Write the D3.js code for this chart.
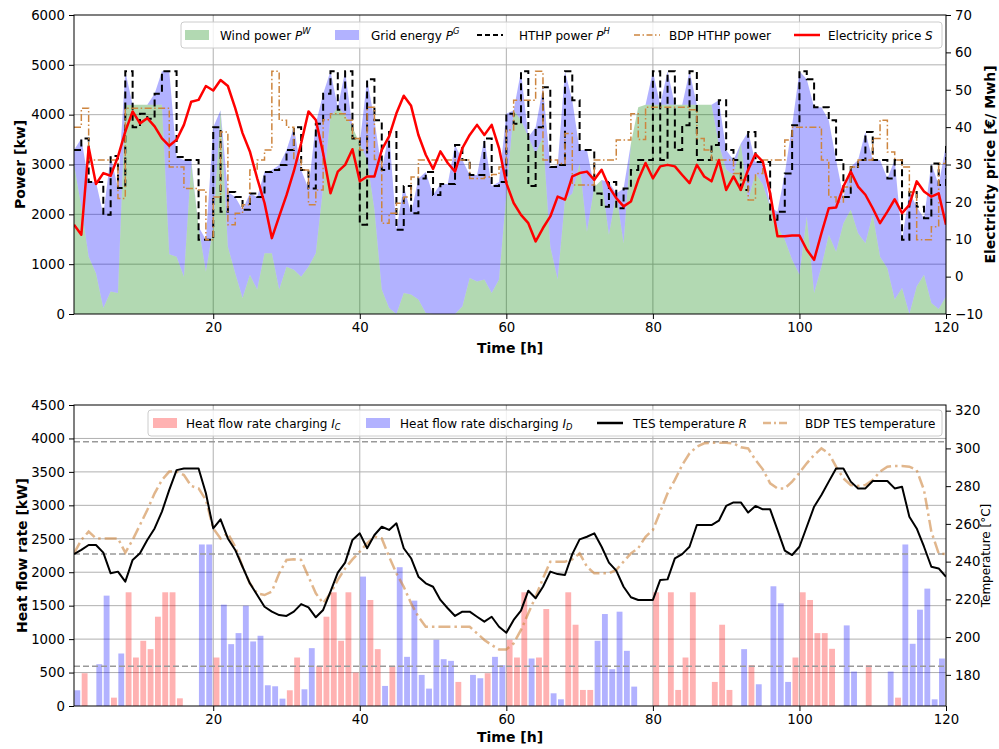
<!DOCTYPE html>
<html><head><meta charset="utf-8">
<script src="https://cdn.jsdelivr.net/npm/d3@7"></script>
<style>body{margin:0;background:#fff} svg{display:block} text{font-family:"DejaVu Sans",sans-serif}</style>
</head><body><svg id="c" width="999" height="749"></svg>
<script>
// ---- hourly data, hours 1..120 ----
const hours = d3.range(1, 121);

const windPower = [
 3000,2150,1150,820,120,450,420,4190,4200,4200,
 4200,4200,4200,1200,1150,750,3020,1750,850,1750,
 4090,1350,820,320,790,490,1220,1220,490,950,
 890,750,950,1220,2550,3950,4150,3990,3750,3420,
 3090,2090,490,120,0,420,390,290,20,0,
 0,0,0,150,720,650,690,420,690,2400,
 4090,3890,3550,3220,3550,1350,690,2290,2420,3020,
 1650,2550,2690,1590,2420,1420,3420,4150,4200,4200,
 4200,4200,4200,4200,4200,4200,4200,4200,3400,2900,
 2790,3420,2290,2820,2600,2150,1750,1490,1090,790,
 1950,420,950,1590,1250,1820,2090,1620,1420,1990,
 1150,920,290,520,0,550,790,220,100,350];

const gridEnergy = [
 290,1370,1500,1830,1870,2720,2110,680,0,0,
 0,220,670,3670,2000,2340,70,0,640,2000,
 0,1100,1530,1770,1630,1860,1630,1670,2500,2340,
 2860,2140,1570,2600,1870,920,0,880,0,0,
 1620,1800,2400,3530,1690,2150,1630,2430,2830,2390,
 2610,2610,3390,2940,2070,2140,2830,2150,1960,1620,
 0,980,0,530,1000,1600,2300,2580,1870,270,
 1640,0,0,1060,0,1100,0,0,0,670,
 0,670,0,0,670,0,0,0,890,390,
 300,0,1360,230,450,0,300,1330,2700,4080,
 2760,3730,3200,2300,1840,530,860,1470,2230,1100,
 1940,1800,2800,970,2450,1600,1130,2800,2490,3050];

const hthpPower = [
 3290,3520,2650,2650,1990,3170,2530,4870,3750,4020,
 3920,4420,4870,4870,3150,3090,3090,1490,1490,3750,
 2050,2450,2350,2090,2420,2350,2850,2890,2990,3290,
 3750,2890,2520,3820,4420,4870,4100,4870,3520,1790,
 4710,3890,2890,3650,1690,2570,2020,2720,2850,2390,
 2610,2610,3390,3090,2790,2790,3520,2570,2650,4020,
 3820,4870,2570,3750,4550,2950,2990,4870,4290,3290,
 3290,2420,2150,2650,2120,2520,2890,3090,3090,4870,
 3090,4870,3290,3790,4870,3090,3090,3390,4290,3290,
 3090,2490,3650,3050,3050,1890,2050,2820,3790,4870,
 4710,4150,4150,3890,3090,2350,2950,3090,3650,3090,
 3090,2720,3090,1490,2450,2150,1920,3020,2590,3400];

const bdpHthpPower = [
 3750,4130,3090,3090,3090,3090,2320,4130,4130,4130,
 4130,4130,4130,2950,2950,2520,2520,2490,1490,2350,
 3650,1790,2020,2190,2890,3090,3290,4870,3890,3750,
 3090,2890,2190,2490,3900,4020,4020,3890,3520,3290,
 4150,3100,1820,2020,2220,2350,2750,3090,3090,3090,
 3090,3090,3090,3090,2720,2720,2750,2800,2950,3690,
 4290,4290,4290,4870,3090,3090,3020,3620,2590,2590,
 2590,3090,3090,3090,3490,3490,4020,3500,4150,4150,
 4150,4150,4150,4150,4100,3520,3290,3090,3090,3090,
 2820,2690,2290,2820,3090,3090,3090,3490,3750,3750,
 3750,3750,3090,2350,2250,2550,2950,3090,3090,3520,
 3890,3250,3090,2950,2450,1490,1490,1750,3020,3090];

const electricityPrice = [
 13.9,11.2,34.6,24.8,27.7,27.0,32.1,38.8,44.2,41.0,
 42.4,40.2,37.0,35.0,36.6,40.6,46.8,47.3,51.0,49.8,
 52.6,51.0,45.1,38.4,33.5,26.3,19.7,10.3,16.1,21.8,
 28.2,35.7,44.2,41.9,33.0,22.3,28.1,29.9,34.1,25.5,
 26.8,26.8,33.9,37.5,43.7,48.4,45.7,37.9,32.6,28.8,
 33.5,30.4,28.1,34.4,37.9,40.6,37.9,40.6,34.4,25.0,
 19.7,16.5,14.3,9.4,13.0,16.1,21.4,20.6,26.8,27.7,
 28.1,25.9,28.6,24.1,21.0,18.8,20.1,25.9,30.4,26.3,
 29.5,29.9,29.5,27.2,25.0,29.9,26.8,25.5,31.2,23.2,
 26.8,23.2,28.6,32.8,30.8,22.3,10.8,10.8,11.0,11.0,
 7.2,4.5,11.6,18.3,18.5,24.1,28.1,24.1,21.9,18.3,
 14.3,17.4,20.7,17.0,19.2,25.5,22.8,21.4,22.3,13.9];

const chargingRate = [
 0,490,0,0,0,125,0,1700,725,975,
 850,1335,1700,1700,115,0,0,0,0,725,
 0,0,0,0,0,0,0,0,0,235,
 725,0,0,600,1335,1700,975,1700,500,0,
 1585,850,0,600,0,0,0,0,0,0,
 0,0,360,0,0,0,490,0,0,990,
 725,1700,0,725,1450,0,0,1700,1215,240,
 240,0,0,0,0,0,0,0,0,1700,
 0,1700,240,725,1700,0,0,360,1215,240,
 0,0,610,0,0,0,0,0,725,1700,
 1585,1090,1090,855,0,0,0,0,610,0,
 0,0,125,0,0,0,0,0,0,0];

const dischargingRate = [
 235,0,0,625,1650,0,785,0,0,0,
 0,0,0,0,0,0,0,2415,2415,0,
 1515,925,1090,1500,965,1050,310,295,110,0,
 0,250,865,0,0,0,0,0,0,1935,
 0,0,300,0,2075,735,1575,465,260,990,
 700,675,0,0,465,415,0,735,610,0,
 0,0,710,0,0,190,100,0,0,0,
 0,975,1375,550,1410,825,290,0,0,0,
 0,0,0,0,0,0,0,0,0,0,
 0,850,0,325,0,1790,1535,360,0,0,
 0,0,0,0,0,1205,515,0,0,0,
 0,515,0,2415,930,1440,1755,100,710,0];

const tesTemperature = [
 244.0,246.2,248.8,248.8,244.8,233.8,234.7,229.4,240.9,244.4,
 251.5,257.6,266.5,278.0,288.5,289.4,289.4,289.4,276.2,257.6,
 262.4,252.3,246.2,237.3,228.5,222.3,216.1,213.5,211.7,211.2,
 213.5,217.5,215.8,210.5,214.4,224.1,234.2,239.5,251.5,255.0,
 247.1,254.1,258.5,256.8,260.3,247.1,241.8,232.0,228.5,226.7,
 219.7,215.3,211.2,213.5,213.5,210.8,208.2,210.8,205.5,202.3,
 209.1,214.0,224.6,220.6,226.7,234.7,233.4,232.9,244.0,251.8,
 253.2,255.0,247.9,239.5,235.2,226.7,221.1,219.7,219.7,219.7,
 230.3,230.6,241.7,244.0,247.9,259.4,259.4,259.4,261.7,269.5,
 271.4,271.4,266.0,269.5,267.7,267.7,256.8,245.8,243.5,247.9,
 258.5,269.1,275.3,282.4,289.4,289.4,282.4,278.8,278.8,282.7,
 282.7,282.7,278.8,279.7,263.8,257.6,247.9,237.3,236.4,232.0];

const bdpTesTemperature = [
 244.4,251.5,255.9,252.3,252.3,252.3,252.3,244.8,251.5,259.4,
 267.4,276.2,283.3,287.7,287.7,285.9,280.1,278.8,272.7,257.6,
 252.3,255.0,247.9,237.3,228.5,223.2,222.3,224.1,233.8,240.9,
 241.2,240.9,232.0,223.2,217.9,223.2,230.3,236.4,241.2,245.3,
 249.7,253.2,252.3,242.6,233.8,226.7,217.9,210.8,205.5,205.5,
 205.5,205.5,205.5,205.5,205.5,202.0,198.5,195.8,193.5,193.5,
 196.7,203.8,212.6,221.4,231.1,240.0,240.0,240.0,241.2,244.4,
 237.3,233.8,233.8,233.8,235.6,240.0,244.4,247.1,253.2,256.8,
 266.5,276.2,283.3,291.2,297.4,300.9,302.7,303.0,303.0,303.0,
 302.7,300.6,300.0,293.9,288.9,281.5,278.8,278.8,282.4,287.1,
 292.1,296.5,300.0,297.4,290.3,284.1,280.6,280.1,280.6,283.3,
 287.7,290.3,290.7,290.7,290.3,288.5,277.9,255.9,244.4,244.0];

// storage temperature bounds: minimum, initial, maximum
const tempLimits = [184.5, 244.0, 303.5];

const timeTicks = [20, 40, 60, 80, 100, 120];
const powerTicks = [0, 1000, 2000, 3000, 4000, 5000, 6000];
const priceTicks = [-10, 0, 10, 20, 30, 40, 50, 60, 70];
const heatTicks = [0, 500, 1000, 1500, 2000, 2500, 3000, 3500, 4000, 4500];
const tempTicks = [180, 200, 220, 240, 260, 280, 300, 320];

// ---- layout ----
const svg = d3.select("#c");
const L = 74, R = 946;
const P1 = {top: 15, bottom: 314};
const P2 = {top: 405, bottom: 706};
const FONT = "DejaVu Sans";
const TICK_FS = 13.3, LEG_FS = 12, LAB_FS = 14;

const x = d3.scaleLinear().domain([1, 120]).range([L, R]);
const yPow = d3.scaleLinear().domain([0, 6000]).range([P1.bottom, P1.top]);
const yPrice = d3.scaleLinear().domain([-10, 70]).range([P1.bottom, P1.top]);
const yHeat = d3.scaleLinear().domain([0, 4500]).range([P2.bottom, P2.top]);
const yTemp = d3.scaleLinear().domain([163.5, 323]).range([P2.bottom, P2.top]);

const GRID = "#b0b0b0";

function clip(id, p) {
  svg.append("clipPath").attr("id", id).append("rect")
    .attr("x", L).attr("y", p.top).attr("width", R - L).attr("height", p.bottom - p.top);
}
clip("clipTop", P1); clip("clipBot", P2);

function grid(g, p, yScale, yTicks) {
  g.append("g").selectAll("line").data(timeTicks.filter(t => t < 120)).join("line")
    .attr("x1", d => x(d)).attr("x2", d => x(d)).attr("y1", p.top).attr("y2", p.bottom)
    .attr("stroke", GRID).attr("stroke-width", 1);
  g.append("g").selectAll("line").data(yTicks.filter((t, i) => i > 0 && i < yTicks.length - 1)).join("line")
    .attr("x1", L).attr("x2", R).attr("y1", d => yScale(d)).attr("y2", d => yScale(d))
    .attr("stroke", GRID).attr("stroke-width", 1);
}

function styleAxis(g) {
  g.attr("font-size", TICK_FS).attr("font-family", FONT);
  g.select(".domain").remove();
  g.selectAll(".tick line").attr("stroke", "#000").attr("stroke-width", 1);
  g.selectAll(".tick text").attr("fill", "#000");
}

function axes(p, yLeft, leftTicks, yRight, rightTicks) {
  styleAxis(svg.append("g").attr("transform", `translate(0,${p.bottom})`)
    .call(d3.axisBottom(x).tickValues(timeTicks).tickSize(5).tickPadding(4).tickFormat(d3.format("d"))));
  styleAxis(svg.append("g").attr("transform", `translate(${L},0)`)
    .call(d3.axisLeft(yLeft).tickValues(leftTicks).tickSize(5).tickPadding(4).tickFormat(d3.format("d"))));
  styleAxis(svg.append("g").attr("transform", `translate(${R},0)`)
    .call(d3.axisRight(yRight).tickValues(rightTicks).tickSize(5).tickPadding(4).tickFormat(d3.format("d"))));
  svg.append("rect").attr("x", L).attr("y", p.top).attr("width", R - L).attr("height", p.bottom - p.top)
    .attr("fill", "none").attr("stroke", "#000").attr("stroke-width", 1);
}

// rich text with italic symbols and a trailing super/subscript
function richText(t, parts, fs) {
  parts.forEach(pt => {
    if (typeof pt === "string") { t.append("tspan").text(pt); return; }
    t.append("tspan").attr("font-style", "italic").text(pt.base);
    if (pt.sup) {
      t.append("tspan").attr("font-style", "italic").attr("font-size", fs * 0.7).attr("dy", -fs * 0.42).text(pt.sup);
    }
    if (pt.sub) {
      t.append("tspan").attr("font-style", "italic").attr("font-size", fs * 0.7).attr("dy", fs * 0.22).text(pt.sub);
    }
  });
}

function legend(box, items) {
  const g = svg.append("g");
  g.append("rect").attr("x", box.x0).attr("y", box.y0).attr("width", box.x1 - box.x0).attr("height", box.y1 - box.y0)
    .attr("rx", 3).attr("fill", "rgba(255,255,255,0.8)").attr("stroke", "#cccccc").attr("stroke-width", 1);
  const cy = (box.y0 + box.y1) / 2;
  items.forEach(it => {
    if (it.kind === "patch") {
      g.append("rect").attr("x", it.hx).attr("y", cy - 5).attr("width", 24).attr("height", 10).attr("fill", it.fill);
    } else {
      g.append("line").attr("x1", it.hx).attr("x2", it.hx + 26).attr("y1", cy).attr("y2", cy)
        .attr("stroke", it.stroke).attr("stroke-width", it.width).attr("stroke-dasharray", it.dash || null);
    }
    const t = g.append("text").attr("x", it.tx).attr("y", cy + 4.5).attr("font-size", LEG_FS).attr("font-family", FONT).attr("fill", "#000");
    richText(t, it.label, LEG_FS);
  });
}

function axisLabel(txt, cx, cy, rot, opts = {}) {
  svg.append("text").attr("transform", `translate(${cx},${cy}) rotate(${rot})`)
    .attr("text-anchor", "middle").attr("dominant-baseline", "central")
    .attr("font-size", opts.fs || LAB_FS).attr("font-weight", opts.weight || "bold")
    .attr("font-family", FONT).attr("fill", "#000").text(txt);
}

const WIND_C = "rgba(0,128,0,0.3)", GRIDE_C = "rgba(0,0,255,0.3)";
const CH_C = "rgba(255,0,0,0.3)", DIS_C = "rgba(0,0,255,0.3)";
const BDP_C = "#cd853f", BDP_T_C = "rgba(205,133,63,0.6)";

// ================= top panel: power and price =================
{
  const g = svg.append("g");
  grid(g, P1, yPow, powerTicks);
  const body = g.append("g").attr("clip-path", "url(#clipTop)");

  const rows = hours.map((h, i) => ({h, wind: windPower[i], grid: gridEnergy[i]}));
  const stacked = d3.stack().keys(["wind", "grid"])(rows);
  const area = d3.area().x(d => x(d.data.h)).y0(d => yPow(d[0])).y1(d => yPow(d[1]));
  body.selectAll("path.area").data(stacked).join("path").attr("class", "area")
    .attr("d", area).attr("fill", (d, i) => i === 0 ? WIND_C : GRIDE_C);

  const step = (vals) => d3.line().curve(d3.curveStepAfter).x((d, i) => x(hours[i])).y(d => yPow(d))(vals);
  body.append("path").attr("d", step(hthpPower)).attr("fill", "none")
    .attr("stroke", "#000").attr("stroke-width", 2).attr("stroke-dasharray", "7,4");
  body.append("path").attr("d", step(bdpHthpPower)).attr("fill", "none")
    .attr("stroke", BDP_C).attr("stroke-width", 1.5).attr("stroke-dasharray", "7,2.5,1.5,2.5");

  const priceLine = d3.line().x((d, i) => x(hours[i])).y(d => yPrice(d));
  body.append("path").attr("d", priceLine(electricityPrice)).attr("fill", "none")
    .attr("stroke", "#ff0000").attr("stroke-width", 2.5).attr("stroke-linejoin", "round");

  axes(P1, yPow, powerTicks, yPrice, priceTicks);
  legend({x0: 181, x1: 942, y0: 22, y1: 48}, [
    {kind: "patch", fill: WIND_C, hx: 185, tx: 220, label: ["Wind power ", {base: "P", sup: "W"}]},
    {kind: "patch", fill: GRIDE_C, hx: 335, tx: 371, label: ["Grid energy ", {base: "P", sup: "G"}]},
    {kind: "line", stroke: "#000", width: 2, dash: "5,3", hx: 477, tx: 519, label: ["HTHP power ", {base: "P", sup: "H"}]},
    {kind: "line", stroke: BDP_C, width: 1.5, dash: "6,2.5,1.5,2.5", hx: 634, tx: 669, label: ["BDP HTHP power"]},
    {kind: "line", stroke: "#ff0000", width: 2.5, hx: 794, tx: 828, label: ["Electricity price ", {base: "S"}]}
  ]);
  axisLabel("Power [kw]", 20, (P1.top + P1.bottom) / 2, -90);
  axisLabel("Electricity price [\u20ac/ Mwh]", 990, (P1.top + P1.bottom) / 2, -90);
  axisLabel("Time [h]", (L + R) / 2, 348, 0);
}

// ================= bottom panel: heat flow and storage temperature =================
{
  const g = svg.append("g");
  grid(g, P2, yHeat, heatTicks);
  const body = g.append("g").attr("clip-path", "url(#clipBot)");

  const barX = h => x(h + 0.05), barW = x(1.8) - x(1);
  body.selectAll("rect.ch").data(hours.filter((h, i) => chargingRate[i] > 0)).join("rect").attr("class", "ch")
    .attr("x", h => barX(h)).attr("width", barW)
    .attr("y", h => yHeat(chargingRate[h - 1])).attr("height", h => yHeat(0) - yHeat(chargingRate[h - 1]))
    .attr("fill", CH_C);
  body.selectAll("rect.dis").data(hours.filter((h, i) => dischargingRate[i] > 0)).join("rect").attr("class", "dis")
    .attr("x", h => barX(h)).attr("width", barW)
    .attr("y", h => yHeat(dischargingRate[h - 1])).attr("height", h => yHeat(0) - yHeat(dischargingRate[h - 1]))
    .attr("fill", DIS_C);

  body.selectAll("line.lim").data(tempLimits).join("line").attr("class", "lim")
    .attr("x1", L).attr("x2", R).attr("y1", d => yTemp(d)).attr("y2", d => yTemp(d))
    .attr("stroke", "#999999").attr("stroke-width", 1.5).attr("stroke-dasharray", "6,3");

  const tLine = d3.line().x((d, i) => x(hours[i])).y(d => yTemp(d));
  body.append("path").attr("d", tLine(bdpTesTemperature)).attr("fill", "none")
    .attr("stroke", BDP_T_C).attr("stroke-width", 2.5).attr("stroke-dasharray", "12,4,2.5,4");
  body.append("path").attr("d", tLine(tesTemperature)).attr("fill", "none")
    .attr("stroke", "#000").attr("stroke-width", 2).attr("stroke-linejoin", "round");

  axes(P2, yHeat, heatTicks, yTemp, tempTicks);
  legend({x0: 148, x1: 942, y0: 410, y1: 436}, [
    {kind: "patch", fill: CH_C, hx: 153, tx: 186, label: ["Heat flow rate charging ", {base: "I", sub: "C"}]},
    {kind: "patch", fill: DIS_C, hx: 366, tx: 400, label: ["Heat flow rate discharging ", {base: "I", sub: "D"}]},
    {kind: "line", stroke: "#000", width: 2.5, hx: 597, tx: 633, label: ["TES temperature ", {base: "R"}]},
    {kind: "line", stroke: BDP_T_C, width: 2.5, dash: "8,3,2,3", hx: 763, tx: 805, label: ["BDP TES temperature"]}
  ]);
  axisLabel("Heat flow rate [kW]", 22, (P2.top + P2.bottom) / 2, -90);
  axisLabel("Temperature [\u00b0C]", 986, (P2.top + P2.bottom) / 2, -90, {weight: "normal", fs: 12});
  axisLabel("Time [h]", (L + R) / 2, 737, 0);
}
</script></body></html>
